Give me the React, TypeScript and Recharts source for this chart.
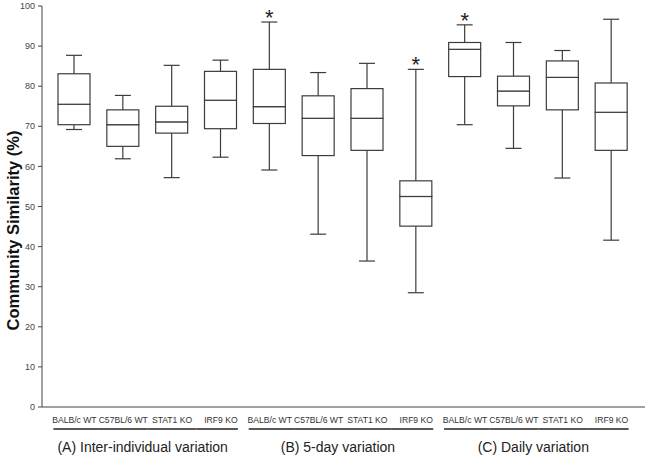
import React from 'react';
import { ComposedChart, Bar, XAxis, YAxis } from 'recharts';

const strains = ['BALB/c WT', 'C57BL/6 WT', 'STAT1 KO', 'IRF9 KO'];
const groupNames = ['(A) Inter-individual variation', '(B) 5-day variation', '(C) Daily variation'];
const mins = [69.2, 61.9, 57.2, 62.3, 59.1, 43.1, 36.4, 28.5, 70.4, 64.5, 57.1, 41.6];
const q1s = [70.4, 65.0, 68.3, 69.4, 70.7, 62.7, 64.0, 45.1, 82.4, 75.1, 74.1, 64.0];
const medians = [75.5, 70.4, 71.1, 76.5, 74.9, 72.0, 72.0, 52.5, 89.2, 78.8, 82.2, 73.5];
const q3s = [83.1, 74.1, 75.0, 83.7, 84.2, 77.6, 79.4, 56.4, 90.9, 82.5, 86.3, 80.8];
const maxs = [87.7, 77.7, 85.2, 86.5, 96.0, 83.4, 85.7, 84.2, 95.3, 90.9, 88.9, 96.7];
const significant = [false, false, false, false, true, false, false, true, true, false, false, false];
const yTicks = [0, 10, 20, 30, 40, 50, 60, 70, 80, 90, 100];

const data = mins.map((mn, i) => ({
  id: String(i),
  label: strains[i % 4],
  group: Math.floor(i / 4),
  pos: i % 4,
  sig: significant[i],
  base: mn,
  lw: q1s[i] - mn,
  lb: medians[i] - q1s[i],
  ub: q3s[i] - medians[i],
  uw: maxs[i] - q3s[i],
}));

const STROKE = '#3c3c3c';
const SW = 1.2;
const FONT = '"Liberation Sans", Arial, sans-serif';

const LowerWhisker = (p: any) => {
  const cx = p.x + p.width / 2;
  const yb = p.y + p.height;
  return (
    <g>
      <line x1={cx} x2={cx} y1={p.y} y2={yb} stroke={STROKE} strokeWidth={SW} />
      <line x1={cx - 8} x2={cx + 8} y1={yb} y2={yb} stroke={STROKE} strokeWidth={SW} />
    </g>
  );
};

const BoxPart = (p: any) => (
  <rect x={p.x} y={p.y} width={p.width} height={p.height} fill="#fff" stroke={STROKE} strokeWidth={SW} />
);

const UpperWhisker = (p: any) => {
  const cx = p.x + p.width / 2;
  const yb = p.y + p.height;
  return (
    <g>
      <line x1={cx} x2={cx} y1={p.y} y2={yb} stroke={STROKE} strokeWidth={SW} />
      <line x1={cx - 8} x2={cx + 8} y1={p.y} y2={p.y} stroke={STROKE} strokeWidth={SW} />
      {p.payload && p.payload.sig ? (
        <text x={cx} y={p.y + 3} textAnchor="middle" fontSize={22} fontFamily={FONT} fill="#222">*</text>
      ) : null}
    </g>
  );
};

const Tick = (props: any) => {
  const { x, y, payload } = props;
  const d = data[Number(payload.value)];
  if (!d) return null;
  const half = 24.4;
  const x1 = d.pos === 0 ? x - 21 : x - half;
  const x2 = d.pos === 3 ? x + 17 : x + half;
  return (
    <g>
      <text x={x} y={y + 8} textAnchor="middle" fontSize={8.6} fontFamily={FONT} fill="#333">{d.label}</text>
      <line x1={x1} x2={x2} y1={y + 14} y2={y + 14} stroke="#222" strokeWidth={1.3} />
      {d.pos === 1 ? (
        <text x={x + half - 5} y={y + 37} textAnchor="middle" fontSize={14} fontFamily={FONT} fill="#222">
          {groupNames[d.group]}
        </text>
      ) : null}
    </g>
  );
};

const YLabel = (props: any) => {
  const vb = props.viewBox || { x: 0, y: 6, width: 42, height: 401 };
  const cx = 13;
  const cy = vb.y + vb.height / 2 + 24;
  return (
    <text x={cx} y={cy} transform={`rotate(-90 ${cx} ${cy})`} textAnchor="middle" dominantBaseline="central"
      fontSize={16.5} fontWeight="bold" fontFamily={FONT} fill="#111">
      Community Similarity (%)
    </text>
  );
};

export default function App() {
  return (
    <div style={{ position: 'absolute', left: 0, top: 0, background: '#fff' }}>
      <ComposedChart width={648} height={455} data={data} margin={{ top: 6, right: 3, bottom: 0, left: 0 }} barCategoryGap={0}>
        <XAxis dataKey="id" type="category" interval={0} height={48} padding={{ left: 8, right: 9 }}
          axisLine={{ stroke: '#444', strokeWidth: 1 }} tickLine={false} tick={<Tick />} />
        <YAxis type="number" domain={[0, 100]} ticks={yTicks} width={42} interval={0}
          axisLine={{ stroke: '#444', strokeWidth: 1 }} tickLine={{ stroke: '#444' }} tickSize={4} tickMargin={3}
          tick={{ fontSize: 9, fontFamily: FONT, fill: '#444' }} label={<YLabel />} />
        <Bar dataKey="base" stackId="b" fill="transparent" barSize={32} isAnimationActive={false} />
        <Bar dataKey="lw" stackId="b" barSize={32} shape={<LowerWhisker />} isAnimationActive={false} />
        <Bar dataKey="lb" stackId="b" barSize={32} shape={<BoxPart />} isAnimationActive={false} />
        <Bar dataKey="ub" stackId="b" barSize={32} shape={<BoxPart />} isAnimationActive={false} />
        <Bar dataKey="uw" stackId="b" barSize={32} shape={<UpperWhisker />} isAnimationActive={false} />
      </ComposedChart>
    </div>
  );
}
